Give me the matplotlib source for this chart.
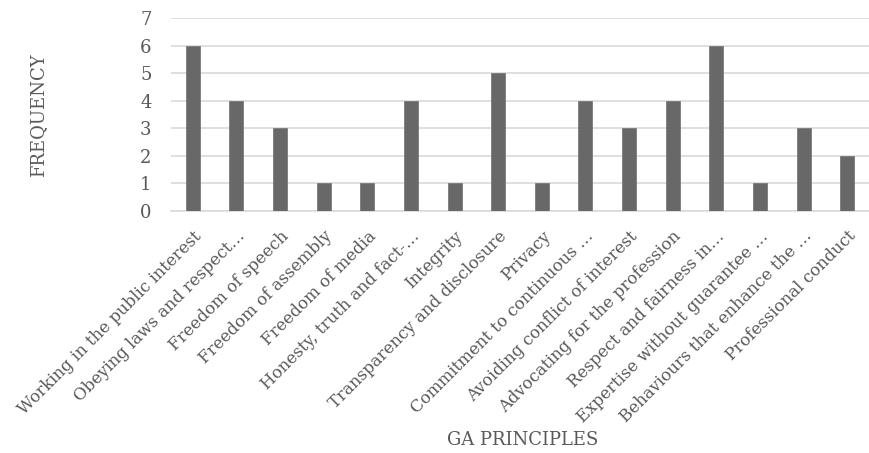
import matplotlib
matplotlib.use("Agg")
import matplotlib.pyplot as plt

categories = [
    "Working in the public interest",
    "Obeying laws and respect…",
    "Freedom of speech",
    "Freedom of assembly",
    "Freedom of media",
    "Honesty, truth and fact-…",
    "Integrity",
    "Transparency and disclosure",
    "Privacy",
    "Commitment to continuous …",
    "Avoiding conflict of interest",
    "Advocating for the profession",
    "Respect and fairness in…",
    "Expertise without guarantee …",
    "Behaviours that enhance the …",
    "Professional conduct",
]
frequency = [6, 4, 3, 1, 1, 4, 1, 5, 1, 4, 3, 4, 6, 1, 3, 2]
y_ticks = [0, 1, 2, 3, 4, 5, 6, 7]

text_color = "#595959"
plt.rcParams["font.family"] = ["DejaVu Serif"]

fig = plt.figure(figsize=(8.7, 4.53), dpi=100)
ax = fig.add_axes([171 / 870, 1 - 211 / 453, 698 / 870, (211 - 18) / 453])

x = range(len(categories))
ax.bar(x, frequency, width=0.32, color="#686868", edgecolor="#7a7a7a",
       linewidth=0.6, zorder=3)

ax.set_xlim(-0.5, len(categories) - 0.5)
ax.set_ylim(0, 7)
ax.set_yticks(y_ticks)
ax.yaxis.grid(True, color="#d9d9d9", linewidth=1.2, zorder=0)
for s in ["top", "right", "left"]:
    ax.spines[s].set_visible(False)
ax.spines["bottom"].set_color("#d9d9d9")
ax.spines["bottom"].set_linewidth(1.2)
ax.tick_params(axis="both", length=0, colors=text_color, labelsize=13)
ax.tick_params(axis="y", pad=14)

ax.set_xticks(list(x))
ax.set_xticklabels(categories, rotation=45, ha="right", va="top",
                   rotation_mode="anchor", fontsize=12, color=text_color)
ax.tick_params(axis="x", pad=12)

fig.text(38 / 870, 1 - 115 / 453, "FREQUENCY", rotation=90, ha="center",
         va="center", fontsize=13, color=text_color)
fig.text(523 / 870, 1 - 440 / 453, "GA PRINCIPLES", ha="center",
         va="center", fontsize=13, color=text_color)

fig.savefig("out.png", dpi=100)
